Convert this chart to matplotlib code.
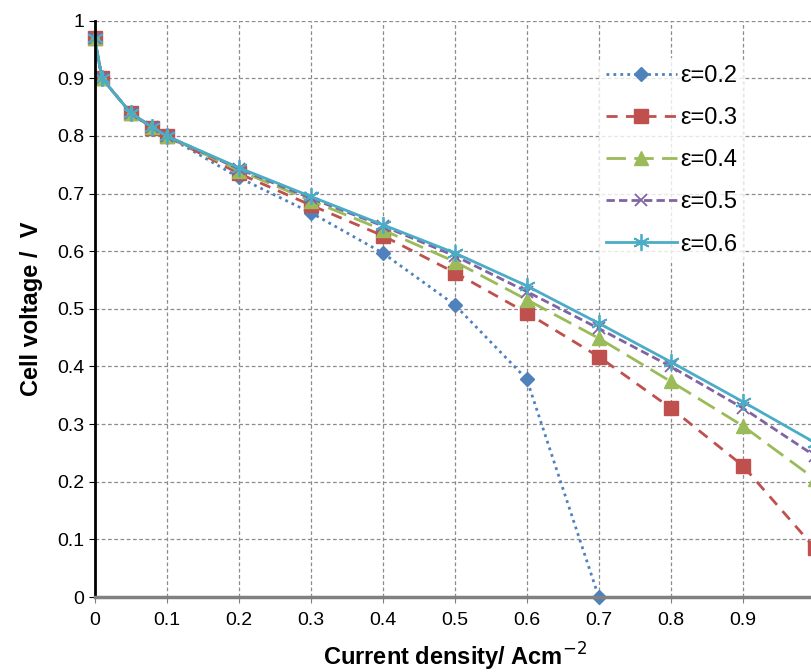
import matplotlib.pyplot as plt
import matplotlib.ticker as mtick
import numpy as np

# current density points (A/cm2)
x_all = [0, 0.01, 0.05, 0.08, 0.1, 0.2, 0.3, 0.4, 0.5, 0.6, 0.7, 0.8, 0.9, 1.0]

# cell voltage for each porosity
v_02 = [0.97, 0.90, 0.84, 0.812, 0.80, 0.728, 0.667, 0.597, 0.507, 0.378, 0.0]
v_03 = [0.97, 0.90, 0.84, 0.814, 0.80, 0.735, 0.680, 0.627, 0.563, 0.493, 0.417, 0.328, 0.228, 0.085]
v_04 = [0.97, 0.90, 0.84, 0.815, 0.80, 0.740, 0.688, 0.637, 0.582, 0.516, 0.449, 0.374, 0.297, 0.205]
v_05 = [0.97, 0.90, 0.84, 0.815, 0.80, 0.743, 0.692, 0.644, 0.592, 0.530, 0.466, 0.400, 0.328, 0.245]
v_06 = [0.97, 0.90, 0.84, 0.815, 0.80, 0.745, 0.695, 0.646, 0.597, 0.540, 0.475, 0.408, 0.339, 0.268]

labels = ['ε=0.2', 'ε=0.3', 'ε=0.4', 'ε=0.5', 'ε=0.6']

plt.rcParams['font.family'] = ['Liberation Sans', 'DejaVu Sans']

fig = plt.figure(figsize=(8.11, 6.72), dpi=100)
ax = fig.add_axes([0.1168, 0.1116, 0.8878, 0.8576])

ax.plot(x_all[:len(v_02)], v_02, color='#4F81BD', ls=(0, (1, 1.5)), lw=2,
        marker='D', ms=7, label=labels[0], clip_on=False)
ax.plot(x_all, v_03, color='#C0504D', ls=(0, (4, 3)), lw=2,
        marker='s', ms=10, label=labels[1], clip_on=False)
ax.plot(x_all, v_04, color='#9BBB59', ls=(0, (7, 3)), lw=2,
        marker='^', ms=10, label=labels[2], clip_on=False)
ax.plot(x_all, v_05, color='#8064A2', ls=(0, (3, 1.5)), lw=2,
        marker='x', ms=9, mew=1.3, label=labels[3], clip_on=False)
ax.plot(x_all, v_06, color='#4BACC6', ls='-', lw=2,
        marker=(6, 2, 0), ms=12, mew=1.3, label=labels[4], clip_on=False)

ax.set_xlim(0, 1)
ax.set_ylim(0, 1)
ax.xaxis.set_major_locator(mtick.MultipleLocator(0.1))
ax.yaxis.set_major_locator(mtick.MultipleLocator(0.1))
ax.xaxis.set_major_formatter(mtick.FuncFormatter(lambda v, p: '%g' % round(v, 1)))
ax.yaxis.set_major_formatter(mtick.FuncFormatter(lambda v, p: '%g' % round(v, 1)))
ax.grid(True, color='#8c8c8c', ls=(0, (3, 2)), lw=0.9)
ax.set_axisbelow(True)

for s in ['top', 'right']:
    ax.spines[s].set_visible(False)
ax.spines['left'].set_color('black')
ax.spines['left'].set_linewidth(2)
ax.spines['bottom'].set_color('#808080')
ax.spines['bottom'].set_linewidth(2.5)
ax.tick_params(axis='both', direction='out', length=4, labelsize=14)
ax.tick_params(axis='x', colors='#808080', labelcolor='black', pad=7)

ax.set_xlabel('Current density/ Acm$^{-2}$', fontsize=17, fontweight='bold', labelpad=8)
ax.set_ylabel('Cell voltage /  V', fontsize=17, fontweight='bold', labelpad=10)

leg = ax.legend(loc='upper left', bbox_to_anchor=(0.70, 0.935), frameon=True,
                fontsize=17, handlelength=3.0, labelspacing=0.85, handletextpad=0.15,
                borderaxespad=0, borderpad=0.3)
leg.get_frame().set_facecolor('white')
leg.get_frame().set_edgecolor('none')

fig.savefig('out.png', dpi=100)
